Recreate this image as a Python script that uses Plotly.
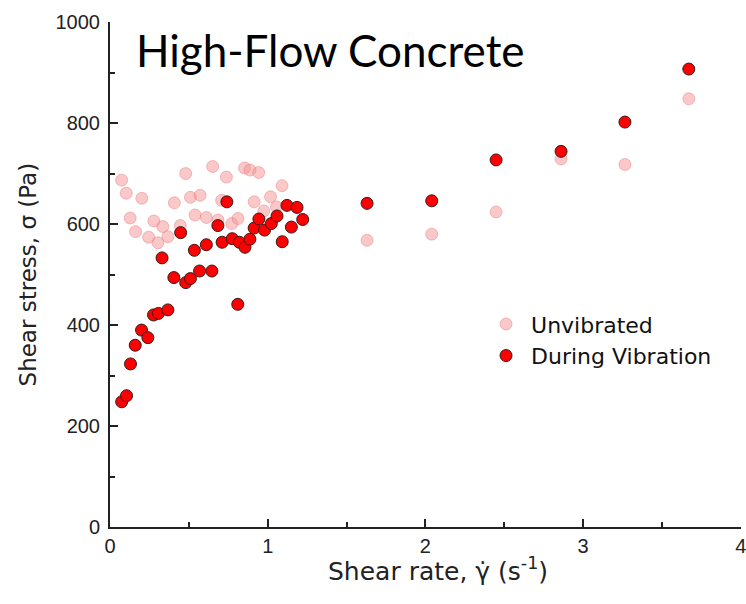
import plotly.graph_objects as go

# Unvibrated (pink) data
unvib_x = [0.074, 0.103, 0.128, 0.162, 0.202, 0.245, 0.278, 0.304, 0.335, 0.367,
           0.408, 0.446, 0.480, 0.510, 0.539, 0.571, 0.611, 0.651, 0.685, 0.708,
           0.738, 0.772, 0.812, 0.853, 0.888, 0.914, 0.943, 0.975, 1.018, 1.056,
           1.091, 1.63, 2.04, 2.448, 2.86, 3.265, 3.67]
unvib_y = [687, 661, 612, 585, 651, 574, 606, 563, 595, 575,
           642, 597, 700, 653, 618, 657, 613, 714, 608, 647,
           693, 601, 611, 711, 707, 644, 702, 626, 654, 634,
           676, 568, 580, 624, 729, 718, 848]

# During Vibration (red) data
vib_x = [0.074, 0.105, 0.130, 0.160, 0.200, 0.240, 0.276, 0.307, 0.330, 0.367,
         0.405, 0.448, 0.480, 0.510, 0.535, 0.568, 0.611, 0.646, 0.684, 0.711,
         0.741, 0.775, 0.810, 0.820, 0.856, 0.887, 0.914, 0.944, 0.980, 1.023,
         1.059, 1.092, 1.122, 1.150, 1.186, 1.222, 1.63, 2.04, 2.448, 2.86,
         3.265, 3.67]
vib_y = [248, 260, 323, 360, 390, 375, 420, 423, 533, 430,
         494, 583, 484, 492, 548, 507, 559, 507, 597, 564,
         644, 571, 441, 564, 554, 570, 592, 610, 588, 601,
         616, 565, 637, 594, 633, 609, 641, 646, 727, 744,
         802, 907]

x_ticks = [0, 1, 2, 3, 4]
y_ticks = [0, 200, 400, 600, 800, 1000]

title_text = "High-Flow Concrete"
x_title = "Shear rate, γ̇ (s<sup>-1</sup>)"
y_title = "Shear stress, σ (Pa)"

fig = go.Figure()
fig.add_trace(go.Scatter(
    x=unvib_x, y=unvib_y, mode="markers", name="Unvibrated",
    marker=dict(size=12, color="rgba(245,145,145,0.5)",
                line=dict(color="rgba(230,120,120,0.45)", width=1)),
))
fig.add_trace(go.Scatter(
    x=vib_x, y=vib_y, mode="markers", name="During Vibration",
    marker=dict(size=12, color="#ff0000",
                line=dict(color="#3a1a1a", width=1)),
))

tick_font = dict(family="Liberation Sans, Arial, sans-serif", size=20, color="#222")
label_family = "DejaVu Sans, sans-serif"

fig.update_layout(
    width=746, height=604,
    margin=dict(l=110, r=5, t=22, b=77, autoexpand=False),
    paper_bgcolor="white", plot_bgcolor="white",
    showlegend=True,
    legend=dict(x=0.588, y=0.37, xanchor="left", yanchor="middle",
                font=dict(family=label_family, size=22, color="#111"),
                bgcolor="rgba(0,0,0,0)", itemwidth=40, tracegroupgap=0),
    xaxis=dict(range=[0, 4.001], tickvals=x_ticks, ticktext=[str(v) for v in x_ticks],
               showline=True, linecolor="#222", linewidth=2, mirror=False,
               ticks="inside", ticklen=8, tickwidth=1.5, tickcolor="#222",
               minor=dict(ticks="inside", ticklen=5, dtick=0.5, tickwidth=1.5, tickcolor="#222"),
               showgrid=False, zeroline=False, tickfont=tick_font, ticklabelstandoff=0,
               ticklabeloverflow="allow"),
    yaxis=dict(range=[0, 1000.2], tickvals=y_ticks, ticktext=[str(v) for v in y_ticks],
               showline=True, linecolor="#222", linewidth=2, mirror=False,
               ticks="inside", ticklen=8, tickwidth=1.5, tickcolor="#222",
               minor=dict(ticks="inside", ticklen=5, dtick=100, tickwidth=1.5, tickcolor="#222"),
               showgrid=False, zeroline=False, tickfont=tick_font, ticklabelstandoff=4,
               ticklabeloverflow="allow"),
    annotations=[
        dict(text=title_text, xref="paper", yref="paper", x=0.038, y=0.945,
             xanchor="left", yanchor="middle", showarrow=False,
             font=dict(family="Lato, sans-serif", size=44, color="#000")),
        dict(text=x_title, xref="paper", yref="paper", x=0.52, y=-0.05,
             xanchor="center", yanchor="top", showarrow=False, borderpad=0,
             font=dict(family=label_family, size=25, color="#222")),
        dict(text=y_title, xref="paper", yref="paper", x=-0.13, y=0.5,
             xanchor="center", yanchor="middle", textangle=-90, showarrow=False,
             font=dict(family=label_family, size=23, color="#222")),
    ],
)

fig.write_html("out.html")
